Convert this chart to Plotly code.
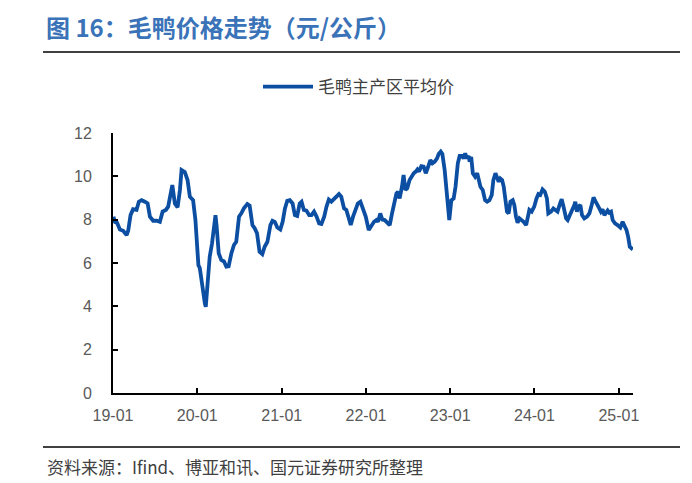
import plotly.graph_objects as go

dates = [
    "2019-01-03", "2019-01-09", "2019-01-19", "2019-01-31", "2019-02-14", "2019-03-01", "2019-03-08",
    "2019-03-18", "2019-03-29", "2019-04-13", "2019-04-23", "2019-05-05", "2019-05-19", "2019-05-31",
    "2019-06-10", "2019-06-24", "2019-07-09", "2019-07-23", "2019-08-04", "2019-08-18", "2019-08-28",
    "2019-09-05", "2019-09-15", "2019-09-26", "2019-10-08", "2019-10-18", "2019-10-25", "2019-11-08",
    "2019-11-20", "2019-11-30", "2019-12-14", "2019-12-24", "2019-12-31", "2020-01-06", "2020-01-12",
    "2020-01-22", "2020-02-03", "2020-02-07", "2020-02-14", "2020-02-24", "2020-03-05", "2020-03-12",
    "2020-03-20", "2020-03-25", "2020-04-03", "2020-04-14", "2020-04-26", "2020-05-06", "2020-05-16",
    "2020-05-28", "2020-06-08", "2020-06-18", "2020-06-30", "2020-07-10", "2020-07-21", "2020-08-05",
    "2020-08-15", "2020-08-27", "2020-09-06", "2020-09-16", "2020-09-27", "2020-10-09", "2020-10-19",
    "2020-10-31", "2020-11-13", "2020-11-22", "2020-12-02", "2020-12-13", "2020-12-26",
    "2021-01-05", "2021-01-15", "2021-01-25", "2021-02-05", "2021-02-17", "2021-02-27", "2021-03-09",
    "2021-03-20", "2021-03-28", "2021-04-07", "2021-04-18", "2021-04-30", "2021-05-10", "2021-05-21",
    "2021-06-01", "2021-06-12", "2021-06-22", "2021-07-04", "2021-07-14", "2021-07-24", "2021-08-04",
    "2021-08-16", "2021-08-26", "2021-09-06", "2021-09-16", "2021-09-28", "2021-10-08", "2021-10-18",
    "2021-10-27", "2021-11-06", "2021-11-17", "2021-11-27", "2021-12-08", "2021-12-19", "2021-12-31",
    "2022-01-13", "2022-01-25", "2022-02-05", "2022-02-15", "2022-02-22", "2022-03-04", "2022-03-13",
    "2022-03-23", "2022-04-04", "2022-04-14", "2022-04-24", "2022-05-05", "2022-05-13", "2022-05-20",
    "2022-05-27", "2022-06-06", "2022-06-13", "2022-06-21", "2022-06-29", "2022-07-09", "2022-07-17",
    "2022-07-27", "2022-08-05", "2022-08-12", "2022-08-19", "2022-08-29", "2022-09-08", "2022-09-17",
    "2022-09-27", "2022-10-07", "2022-10-16", "2022-10-26", "2022-11-05", "2022-11-12", "2022-11-21",
    "2022-11-28", "2022-12-08", "2022-12-15", "2022-12-22", "2022-12-28",
    "2023-01-06", "2023-01-16", "2023-01-24", "2023-02-03", "2023-02-11", "2023-02-21", "2023-02-28",
    "2023-03-07", "2023-03-14", "2023-03-22", "2023-03-26", "2023-04-02", "2023-04-09", "2023-04-19",
    "2023-04-28", "2023-05-05", "2023-05-12", "2023-05-22", "2023-06-01", "2023-06-10", "2023-06-20",
    "2023-06-30", "2023-07-07", "2023-07-16", "2023-07-23", "2023-07-30", "2023-08-06", "2023-08-14",
    "2023-08-21", "2023-08-28", "2023-09-04", "2023-09-11", "2023-09-19", "2023-09-29", "2023-10-06",
    "2023-10-13", "2023-10-20", "2023-10-28", "2023-11-07", "2023-11-15", "2023-11-26", "2023-12-02",
    "2023-12-10", "2023-12-20", "2023-12-31",
    "2024-01-10", "2024-01-18", "2024-01-26", "2024-02-05", "2024-02-15", "2024-02-24", "2024-03-01",
    "2024-03-13", "2024-03-23", "2024-03-31", "2024-04-10", "2024-04-21", "2024-04-28", "2024-05-06",
    "2024-05-17", "2024-05-24", "2024-06-03", "2024-06-12", "2024-06-22", "2024-06-26", "2024-07-03",
    "2024-07-10", "2024-07-18", "2024-07-25", "2024-08-04", "2024-08-16", "2024-08-26", "2024-09-05",
    "2024-09-13", "2024-09-21", "2024-09-28", "2024-10-08", "2024-10-15", "2024-10-22", "2024-10-30",
    "2024-11-06", "2024-11-13", "2024-11-20", "2024-11-28", "2024-12-05", "2024-12-15", "2024-12-26",
    "2025-01-07", "2025-01-17", "2025-01-24", "2025-02-03", "2025-02-10", "2025-02-17", "2025-02-24",
    "2025-03-01",
]

prices = [
    8.14, 7.90, 7.85, 7.55, 7.49, 7.29, 7.50,
    8.21, 8.48, 8.45, 8.83, 8.90, 8.83, 8.75,
    8.14, 7.95, 7.95, 7.90, 8.37, 8.45, 8.60,
    8.98, 9.60, 8.75, 8.57, 9.37, 10.29, 10.20,
    9.83, 9.06, 8.90, 8.00, 6.90, 5.90, 5.77,
    4.90, 4.14, 3.98, 4.90, 6.29, 6.90, 7.67,
    8.21, 7.70, 6.45, 6.14, 6.07, 5.83, 5.85,
    6.45, 6.83, 6.98, 8.14, 8.29, 8.52, 8.72,
    8.65, 7.75, 7.60, 7.37, 6.52, 6.41, 6.75,
    6.98, 7.75, 7.95, 7.90, 7.64, 7.55,
    7.90, 8.52, 8.87, 8.90, 8.75, 8.21, 8.17,
    8.75, 8.83, 8.45, 8.42, 8.21, 8.21, 8.37,
    8.14, 7.83, 7.80, 8.14, 8.60, 8.93, 8.83,
    8.98, 9.09, 9.18, 9.06, 8.52, 8.45, 7.98,
    7.75, 8.14, 8.52, 8.75, 8.83, 8.45, 8.14,
    7.52, 7.75, 7.90, 7.98, 7.90, 8.29, 8.00,
    7.98, 7.86, 7.75, 8.29, 8.83, 9.21, 9.29,
    8.98, 9.52, 10.06, 9.37, 9.45, 9.83, 9.98,
    10.14, 10.22, 10.32, 10.22, 10.47, 10.45, 10.14,
    10.43, 10.75, 10.60, 10.68, 10.83, 11.03, 11.14,
    11.03, 10.29, 9.37, 8.60, 7.98,
    8.90, 8.98, 9.52, 10.60, 10.94, 10.94, 10.83,
    11.06, 10.83, 10.94, 10.68, 10.90, 10.14, 9.98,
    10.14, 9.90, 9.52, 9.37, 8.90, 8.83, 8.90,
    9.14, 9.83, 10.14, 9.98, 9.75, 9.90, 9.83,
    9.52, 8.98, 8.37, 8.29, 8.83, 8.90, 8.67,
    8.14, 7.86, 8.06, 7.98, 7.90, 7.75, 8.06,
    8.45, 8.37, 8.60,
    8.98, 9.18, 9.14, 9.40, 9.29, 8.98, 8.29,
    8.37, 8.52, 8.45, 8.37, 8.75, 8.94, 8.60,
    8.06, 7.98, 8.21, 8.37, 8.68, 8.83, 8.37,
    8.60, 8.68, 8.21, 8.06, 8.14, 8.29, 8.68,
    9.03, 8.86, 8.68, 8.52, 8.37, 8.48, 8.21,
    8.29, 8.42, 8.32, 8.37, 7.98, 7.83, 7.75,
    7.64, 7.90, 7.75, 7.52, 7.21, 6.75, 6.68,
    6.75,
]

series_name = "毛鸭主产区平均价"
title_text = "图 16：毛鸭价格走势（元/公斤）"
source_text = "资料来源：Ifind、博亚和讯、国元证券研究所整理"
y_ticks = [0, 2, 4, 6, 8, 10, 12]

# page body has an 8px margin, so figure coords = window coords - 8
W, H = 684, 475
PL, PR, PT, PB = 105, 625, 125, 385   # plot area in figure coords
pw, ph = PR - PL, PB - PT

def py(win_y):
    return (PB - (win_y - 8)) / ph

def px(win_x):
    return ((win_x - 8) - PL) / pw

fig = go.Figure()
fig.add_trace(go.Scatter(
    x=dates, y=prices, mode="lines", name=series_name,
    line=dict(color="#0B4EA2", width=3.8, shape="linear"),
))

axis_font = dict(family="Liberation Sans, Arial, sans-serif", size=16, color="#595959")

fig.update_layout(
    width=W, height=H,
    margin=dict(l=PL, r=W - PR, t=PT, b=H - PB),
    paper_bgcolor="white", plot_bgcolor="white",
    showlegend=True,
    legend=dict(
        orientation="h", x=px(258), y=py(87), xanchor="left", yanchor="middle",
        font=dict(family="Noto Sans CJK SC", size=17, color="#404040"),
        bgcolor="rgba(0,0,0,0)", itemwidth=50,
    ),
    title=dict(
        text=title_text, x=(46 - 8) / W, xref="container", xanchor="left",
        y=1 - (29 - 8) / H, yref="container", yanchor="middle",
        font=dict(family="Noto Sans CJK SC", size=24, color="#3A73B8", weight="bold"),
    ),
    xaxis=dict(
        type="date", range=["2019-01-01", "2025-03-03"],
        tick0="2019-01-01", dtick="M12", tickformat="%y-%m",
        ticks="inside", ticklen=5, tickwidth=1.5, tickcolor="black",
        showline=True, linecolor="black", linewidth=1.8,
        showgrid=False, zeroline=False, tickfont=axis_font,
        ticklabelstandoff=7,
    ),
    yaxis=dict(
        range=[0, 12], tickvals=y_ticks,
        ticks="inside", ticklen=5, tickwidth=1.5, tickcolor="black",
        showline=True, linecolor="black", linewidth=1.8,
        showgrid=False, zeroline=False, tickfont=axis_font,
        ticklabelstandoff=16,
    ),
    shapes=[
        dict(type="line", xref="paper", yref="paper",
             x0=px(43), x1=px(680), y0=py(52), y1=py(52),
             line=dict(color="black", width=1.5)),
        dict(type="line", xref="paper", yref="paper",
             x0=px(43), x1=px(680), y0=py(447), y1=py(447),
             line=dict(color="black", width=1.5)),
    ],
    annotations=[
        dict(text=source_text, xref="paper", yref="paper",
             x=px(45), y=py(466), xanchor="left", yanchor="middle",
             showarrow=False,
             font=dict(family="Noto Sans CJK SC", size=17, color="#404040")),
    ],
)

fig.write_html("out.html")
